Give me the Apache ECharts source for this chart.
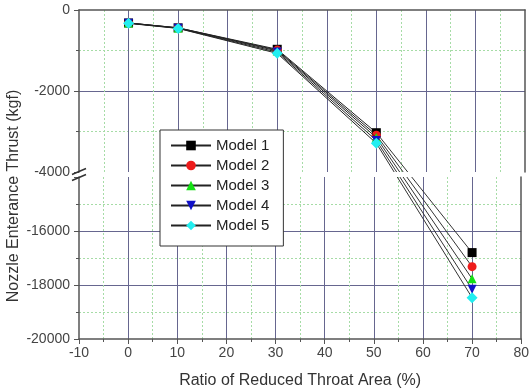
<!DOCTYPE html>
<html>
<head>
<meta charset="utf-8">
<script src="https://cdn.jsdelivr.net/npm/echarts@6/dist/echarts.min.js"></script>
<style>
  html, body { margin: 0; padding: 0; background: #fff; }
  #chart { width: 532px; height: 392px; }
</style>
</head>
<body>
<div id="chart"></div>
<script>
// Upper panel holds the small-area points, lower panel only the 70% point;
// the y-axis is broken between -4000 and -14000 like the original figure.
const MODELS = ["Model 1", "Model 2", "Model 3", "Model 4", "Model 5"];
const RATIO_UPPER = [0, 10, 30, 50];
const RATIO_LOWER = [70];
const THRUST_UPPER = [
  [-320, -440, -970, -3030],
  [-320, -440, -990, -3090],
  [-320, -445, -1010, -3150],
  [-325, -450, -1040, -3220],
  [-330, -455, -1070, -3290],
];
const THRUST_LOWER = [[-16800], [-17320], [-17770], [-18160], [-18470]];

const COLORS = ["#000000", "#ee1c1c", "#14e014", "#1010c8", "#22eef0"];
const SYMBOLS = ["rect", "circle", "triangle", "triangle", "diamond"];
const ROTATE = [0, 0, 0, 180, 0];

const FONT = "Liberation Sans, Arial, sans-serif";
const AXIS = "#555";
const MAJOR = "#66668f";
const MINOR = "#a6dca6";

const gridLines = {
  splitLine: { show: true, showMinLine: false, showMaxLine: false, lineStyle: { color: MAJOR, width: 1 } },
  minorTick: { show: true, splitNumber: 2, length: 3, lineStyle: { color: AXIS } },
  minorSplitLine: { show: true, lineStyle: { color: MINOR, type: [2, 2], width: 1 } },
};
const label = { fontSize: 14, color: "#444", margin: 9, fontFamily: FONT, formatter: (v) => String(v) };
const axisLine = { show: true, onZero: false, lineStyle: { color: AXIS, width: 1.5 } };

function pairs(xs, ys) {
  return xs.map((x, i) => [x, ys[i]]);
}

const series = [];
MODELS.forEach((name, i) => {
  const common = {
    name,
    type: "line",
    symbol: SYMBOLS[i],
    symbolRotate: ROTATE[i],
    symbolSize: SYMBOLS[i] === "diamond" ? 11 : 9,
    itemStyle: { color: COLORS[i] },
    lineStyle: { color: "#222", width: 1 },
    z: 5 + i,
  };
  series.push({ ...common, xAxisIndex: 0, yAxisIndex: 0, data: pairs(RATIO_UPPER, THRUST_UPPER[i]) });
  series.push({ ...common, xAxisIndex: 1, yAxisIndex: 1, data: pairs(RATIO_LOWER, THRUST_LOWER[i]) });
});

const option = {
  animation: false,
  textStyle: { fontFamily: FONT },
  grid: [
    { left: 79, right: 7, top: 10, height: 162 },
    { left: 79, right: 7, top: 177, height: 162 },
  ],
  xAxis: [
    {
      gridIndex: 0, type: "value", position: "top", min: -10, max: 80, interval: 10,
      axisLine, axisTick: { show: false }, axisLabel: { show: false },
      ...gridLines,
      minorTick: { show: false, splitNumber: 2 },
    },
    {
      gridIndex: 1, type: "value", min: -10, max: 80, interval: 10,
      name: "Ratio of Reduced Throat Area (%)", nameLocation: "middle", nameGap: 34,
      nameTextStyle: { fontSize: 16, color: "#333", fontFamily: FONT },
      axisLine, axisTick: { show: true, length: 5, lineStyle: { color: AXIS } },
      axisLabel: { ...label, margin: 7 },
      ...gridLines,
    },
  ],
  yAxis: [
    {
      gridIndex: 0, type: "value", min: -4000, max: 0, interval: 2000,
      axisLine, axisTick: { show: true, length: 5, lineStyle: { color: AXIS } },
      axisLabel: label,
      ...gridLines,
    },
    {
      gridIndex: 1, type: "value", min: -20000, max: -14000, interval: 2000,
      axisLine, axisTick: { show: true, length: 5, lineStyle: { color: AXIS } },
      axisLabel: { ...label, showMaxLabel: false },
      ...gridLines,
    },
    {
      gridIndex: 0, type: "value", position: "right", min: -4000, max: 0,
      axisLine, axisTick: { show: false }, axisLabel: { show: false }, splitLine: { show: false },
    },
    {
      gridIndex: 1, type: "value", position: "right", min: -20000, max: -14000,
      axisLine, axisTick: { show: false }, axisLabel: { show: false }, splitLine: { show: false },
    },
  ],
  legend: {
    orient: "vertical", left: 160, top: 130,
    data: MODELS,
    backgroundColor: "#fff", borderColor: "#333", borderWidth: 1,
    padding: [8, 14, 13, 10], itemGap: 5, itemWidth: 40, itemHeight: 12,
    textStyle: { fontSize: 15, color: "#222", fontFamily: FONT },
    z: 20,
  },
  series,
};

const chart = echarts.init(document.getElementById("chart"));
chart.setOption(option);

// Segments that cross the axis break: 50% point in the upper panel to the
// 70% point in the lower panel, interrupted across the gap.
const graphics = [];
const upBottom = chart.convertToPixel({ gridIndex: 0 }, [-10, -4000]);
const loTop = chart.convertToPixel({ gridIndex: 1 }, [-10, -14000]);
MODELS.forEach((name, i) => {
  const n = RATIO_UPPER.length - 1;
  const a = chart.convertToPixel({ gridIndex: 0 }, [RATIO_UPPER[n], THRUST_UPPER[i][n]]);
  const b = chart.convertToPixel({ gridIndex: 1 }, [RATIO_LOWER[0], THRUST_LOWER[i][0]]);
  const at = (y) => [a[0] + (b[0] - a[0]) * (y - a[1]) / (b[1] - a[1]), y];
  const p = at(upBottom[1]);
  const q = at(loTop[1]);
  const style = { stroke: "#333", lineWidth: 1 };
  graphics.push({ type: "line", z: 4, shape: { x1: a[0], y1: a[1], x2: p[0], y2: p[1] }, style });
  graphics.push({ type: "line", z: 4, shape: { x1: q[0], y1: q[1], x2: b[0], y2: b[1] }, style });
});
// break marks on the y axis
const midY = (upBottom[1] + loTop[1]) / 2;
[-3, 3].forEach((d) => {
  graphics.push({
    type: "line", z: 30,
    shape: { x1: upBottom[0] - 7, y1: midY + d + 3, x2: upBottom[0] + 7, y2: midY + d - 3 },
    style: { stroke: "#333", lineWidth: 1.5 },
  });
});
graphics.push({
  type: "text", z: 30, left: 6, top: "middle", rotation: Math.PI / 2,
  style: {
    text: "Nozzle Enterance Thrust (kgf)", fontSize: 16, fill: "#333", fontFamily: FONT,
  },
});
chart.setOption({ graphic: graphics });
window.addEventListener("resize", () => chart.resize());
</script>
</body>
</html>
